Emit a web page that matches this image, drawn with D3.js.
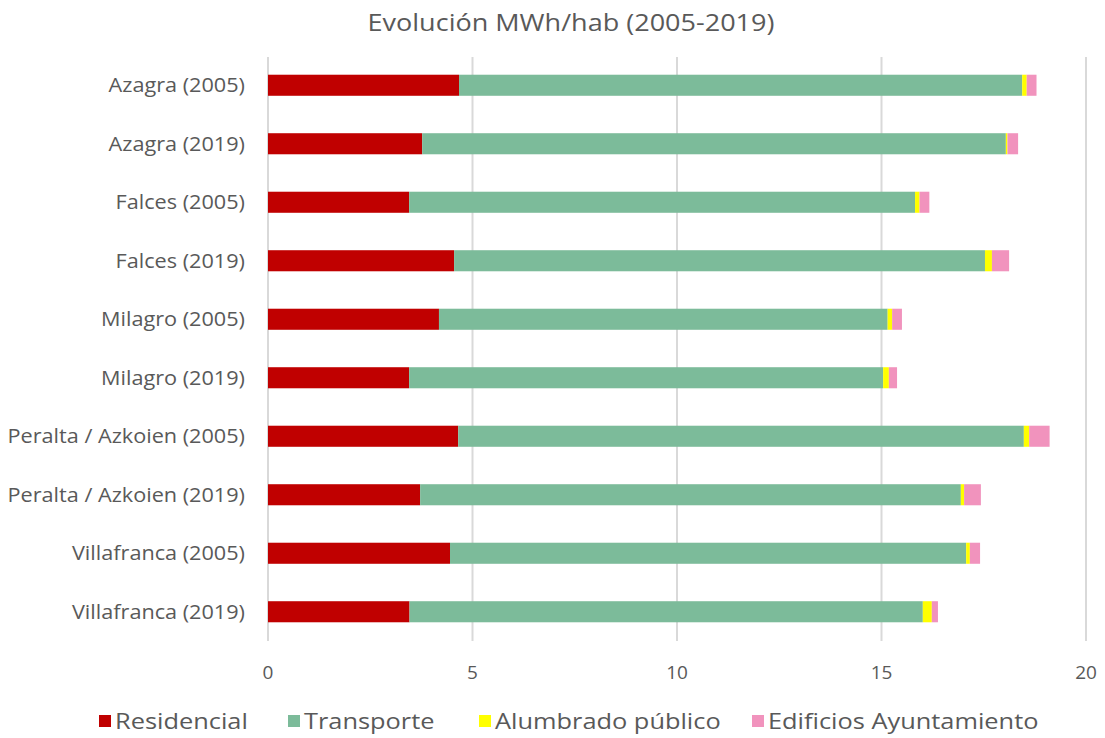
<!DOCTYPE html>
<html><head><meta charset="utf-8">
<script src="https://cdn.jsdelivr.net/npm/d3@7"></script>
<style>body{margin:0;background:#fff}svg{display:block}text{font-family:"Open Sans",sans-serif;fill:#595959}</style>
</head><body><svg id="c" width="1105" height="738"></svg>
<script>
const categories = ["Azagra (2005)","Azagra (2019)","Falces (2005)","Falces (2019)","Milagro (2005)","Milagro (2019)","Peralta / Azkoien (2005)","Peralta / Azkoien (2019)","Villafranca (2005)","Villafranca (2019)"];
const residencial = [4.67,3.77,3.45,4.55,4.18,3.45,4.65,3.72,4.45,3.46];
const transporte = [13.77,14.27,12.37,12.98,10.97,11.59,13.83,13.22,12.62,12.55];
const alumbrado = [0.11,0.04,0.11,0.17,0.11,0.14,0.13,0.08,0.09,0.22];
const edificios = [0.24,0.26,0.24,0.42,0.24,0.20,0.50,0.41,0.25,0.15];
const seriesNames = ["Residencial","Transporte","Alumbrado público","Edificios Ayuntamiento"];
const colors = ["#c00000","#7cbb9a","#ffff00","#f193bd"];
const xTicks = [0,5,10,15,20];
const title = "Evolución MWh/hab (2005-2019)";

const svg = d3.select("#c");
const x = d3.scaleLinear().domain([0,20]).range([268,1086]);
const y = d3.scaleBand().domain(categories).range([56,641]).paddingInner(0.64).paddingOuter(0.32);

function stretch(sel, k){
  sel.each(function(){ const w=this.getComputedTextLength(); d3.select(this).attr("textLength",w*k).attr("lengthAdjust","spacingAndGlyphs"); });
}

svg.append("text").attr("x",571).attr("y",31).attr("text-anchor","middle").attr("font-size",23).attr("textLength",407).attr("lengthAdjust","spacingAndGlyphs").text(title);

svg.append("g").selectAll("line").data(xTicks).join("line")
  .attr("x1",d=>x(d)).attr("x2",d=>x(d)).attr("y1",57).attr("y2",641)
  .attr("stroke","#d9d9d9").attr("stroke-width",2);

const table = categories.map((c,i)=>({cat:c,Residencial:residencial[i],Transporte:transporte[i],"Alumbrado público":alumbrado[i],"Edificios Ayuntamiento":edificios[i]}));
const stack = d3.stack().keys(seriesNames)(table);
svg.append("g").selectAll("g").data(stack).join("g").attr("fill",(d,i)=>colors[i])
  .selectAll("rect").data(d=>d).join("rect")
  .attr("x",d=>x(d[0])).attr("width",d=>x(d[1])-x(d[0]))
  .attr("y",d=>y(d.data.cat)).attr("height",y.bandwidth());

svg.append("g").selectAll("text").data(categories).join("text")
  .attr("x",245).attr("y",d=>y(d)+y.bandwidth()/2).attr("dy","0.35em")
  .attr("text-anchor","end").attr("font-size",19.5).text(d=>d).call(stretch,1.11);

svg.append("g").selectAll("text").data(xTicks).join("text")
  .attr("x",d=>x(d)).attr("y",679).attr("text-anchor","middle").attr("font-size",19).text(d=>d);

const legX = [99,288,479,752];
const lg = svg.append("g").selectAll("g").data(seriesNames).join("g").attr("transform",(d,i)=>`translate(${legX[i]},712)`);
lg.append("rect").attr("width",12).attr("height",12).attr("y",3).attr("fill",(d,i)=>colors[i]);
lg.append("text").attr("x",16).attr("y",9).attr("dy","0.35em").attr("font-size",21.5).text(d=>d).call(stretch,1.18);
</script></body></html>
